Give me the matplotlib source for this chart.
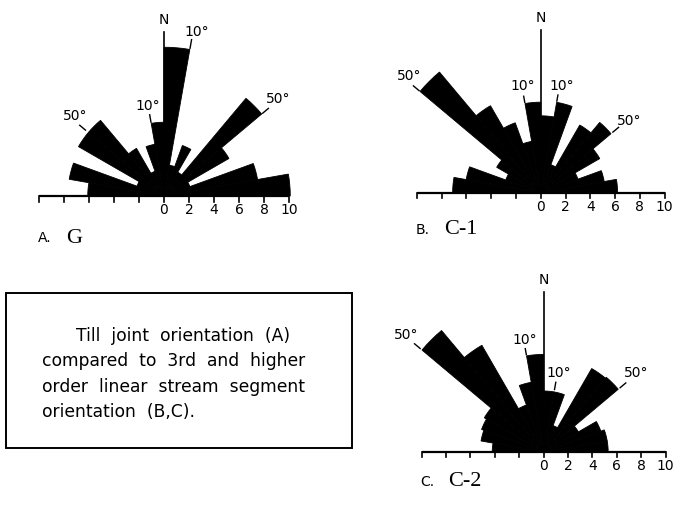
import numpy as np
import matplotlib
matplotlib.use("Agg")
from matplotlib import pyplot as plt
from matplotlib.patches import Wedge, Rectangle

# 10 degree bins, compass angle from N (negative = west of N)
bin_edges = list(range(-90, 91, 10))

# bar lengths per bin (west 90 -> east 90)
vals_a = [6.1, 7.7, 2.3, 7.9, 7.9, 4.4, 2.1, 4.2, 5.9,
          11.9, 2.5, 4.3, 2.2, 10.2, 6.0, 2.2, 7.6, 10.1]
vals_b = [7.1, 6.1, 3.0, 4.1, 12.7, 8.1, 6.0, 4.2, 7.3,
          6.2, 7.4, 2.4, 6.3, 7.4, 5.5, 3.2, 5.2, 6.2]
vals_c = [4.2, 5.2, 5.4, 5.6, 13.0, 10.1, 4.1, 5.8, 8.0,
          5.0, 5.0, 2.3, 7.9, 8.0, 3.3, 5.0, 5.3, 5.3]

scale_ticks = list(range(-10, 11, 2))
scale_labels = [0, 2, 4, 6, 8, 10]

# (tick angle, tick start, tick end, text angle, text radius, text)
marks_a = [(10, 12.0, 12.7, 11.4, 13.4, "10°"), (-10, 6.0, 6.6, -10, 7.3, "10°"),
           (-50, 8.2, 8.8, -48, 9.6, "50°"), (50, 10.3, 10.9, 49.5, 12.0, "50°")]
marks_b = [(-50, 12.8, 13.4, -48.5, 14.2, "50°"), (-10, 7.4, 7.9, -9.6, 8.7, "10°"),
           (10, 7.5, 8.0, 11.1, 8.8, "10°"), (50, 7.6, 8.2, 51, 9.2, "50°")]
marks_c = [(-50, 13.2, 13.8, -49.5, 14.8, "50°"), (-10, 8.1, 8.6, -9.5, 9.3, "10°"),
           (10, 5.2, 5.8, 10.6, 6.6, "10°"), (50, 8.2, 8.8, 49.8, 10.0, "50°")]

caption = ["Till  joint  orientation  (A)",
           "compared  to  3rd  and  higher",
           "order  linear  stream  segment",
           "orientation  (B,C)."]

W, H = 674, 511
fig = plt.figure(figsize=(W / 100, H / 100), dpi=100)


def polar(ang, r):
    a = np.radians(ang)
    return r * np.sin(a), r * np.cos(a)


def rose(ox, oy, scale, vals, marks, letter, name, label_y):
    left = ox - 11 * scale
    top = oy - 15.5 * scale
    ax = fig.add_axes([left / W, 1 - (top + 18.5 * scale) / H,
                       22 * scale / W, 18.5 * scale / H])
    ax.set_xlim(-11, 11)
    ax.set_ylim(-3, 15.5)
    ax.axis("off")

    for e0, e1, r in zip(bin_edges[:-1], bin_edges[1:], vals):
        ax.add_patch(Wedge((0, 0), r, 90 - e1, 90 - e0, fc="black",
                           ec="black", lw=0.6))

    ax.plot([-10, 10], [0, 0], color="black", lw=1.6, solid_capstyle="butt")
    for t in scale_ticks:
        ax.plot([t, t], [0, -0.45], color="black", lw=1.2)
    for t in scale_labels:
        ax.text(t, -1.15, str(t), ha="center", va="center", fontsize=10)

    ax.plot([0, 0], [0, 13.1], color="black", lw=1.2)
    ax.text(0, 14.1, "N", ha="center", va="center", fontsize=10)

    for ang, r0, r1, tang, tr, txt in marks:
        x0, y0 = polar(ang, r0)
        x1, y1 = polar(ang, r1)
        ax.plot([x0, x1], [y0, y1], color="black", lw=1.0)
        tx, ty = polar(tang, tr)
        ax.text(tx, ty, txt, ha="center", va="center", fontsize=10)

    ax.text(-10.1, label_y, letter, ha="left", va="center", fontsize=10)
    ax.text(-7.8, label_y, name, ha="left", va="center", fontsize=16,
            family="Liberation Serif")
    return ax


rose(164, 196, 12.5, vals_a, marks_a, "A.", "G", -3.4)
rose(540.7, 192.7, 12.4, vals_b, marks_b, "B.", "C-1", -3.0)
rose(543.5, 452, 12.2, vals_c, marks_c, "C.", "C-2", -2.45)

# caption box
bg = fig.add_axes([0, 0, 1, 1], zorder=-1)
bg.set_xlim(0, W)
bg.set_ylim(H, 0)
bg.axis("off")
bg.add_patch(Rectangle((6, 293), 346, 155, fill=False, ec="black", lw=1.4))
for i, line in enumerate(caption):
    x = 76 if i == 0 else 42
    bg.text(x, 341 + 25.3 * i, line, ha="left", va="baseline", fontsize=12.3)

fig.savefig("out.png", dpi=100)
